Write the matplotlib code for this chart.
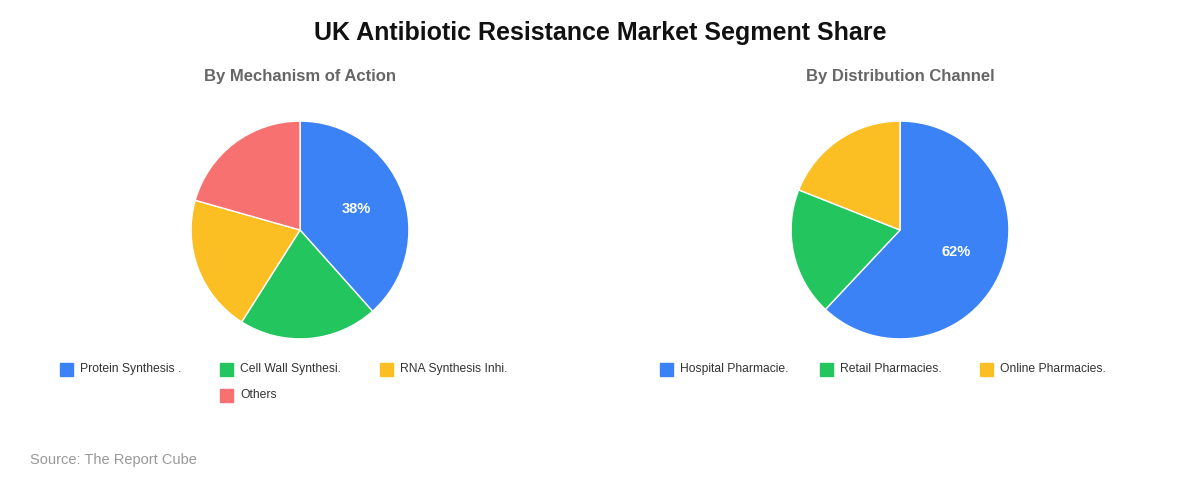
import matplotlib
matplotlib.use("Agg")
import matplotlib.pyplot as plt
from matplotlib.patches import Rectangle

plt.rcParams['font.family'] = ['Liberation Sans', 'DejaVu Sans']

title = "UK Antibiotic Resistance Market Segment Share"
source = "Source: The Report Cube"

# left pie: mechanism of action
mech_title = "By Mechanism of Action"
mech_labels = ["Protein Synthesis .", "Cell Wall Synthesi.", "RNA Synthesis Inhi.", "Others"]
mech_values = [38.4, 20.6, 20.4, 20.6]

# right pie: distribution channel
dist_title = "By Distribution Channel"
dist_labels = ["Hospital Pharmacie.", "Retail Pharmacies.", "Online Pharmacies."]
dist_values = [62, 19, 19]

colors = ["#3b82f6", "#22c55e", "#fbbf24", "#f87171"]

W, H = 1200, 480
fig = plt.figure(figsize=(12, 4.8), dpi=100)
fig.patch.set_facecolor("white")

fig.text(0.5, 1 - 33 / H, title, ha="center", va="center",
         fontsize=18, fontweight="bold", color="#111111")


def draw_pie(cx, sub, labels, values, leg_x0, leg_y0):
    r = 110
    ax = fig.add_axes([(cx - r) / W, (H - 230 - r) / H, 2 * r / W, 2 * r / H])
    wedges, texts, autotexts = ax.pie(
        values, colors=colors[:len(values)], startangle=90, counterclock=False,
        radius=1, autopct="%.0f%%", pctdistance=0.55,
        wedgeprops=dict(edgecolor="white", linewidth=1),
        textprops=dict(color="white", fontsize=10.5, fontweight="bold"))
    # only the biggest slice gets a label
    for i, t in enumerate(autotexts):
        if i != 0:
            t.set_visible(False)
    ax.set_xlim(-1.01, 1.01)
    ax.set_ylim(-1.01, 1.01)
    ax.set_aspect("equal")
    ax.axis("off")

    fig.text(cx / W, 1 - 77 / H, sub, ha="center", va="center",
             fontsize=12, fontweight="bold", color="#666666")

    # legend, 3 per row, short rows centred
    n = len(labels)
    for i, lab in enumerate(labels):
        row, col = divmod(i, 3)
        in_row = min(3, n - row * 3)
        offset = (3 - in_row) * 160 / 2
        x = leg_x0 + offset + col * 160
        y = leg_y0 + row * 26
        fig.add_artist(Rectangle((x / W, 1 - (y + 6.5) / H), 13 / W, 13 / H,
                                 transform=fig.transFigure, color=colors[i]))
        fig.text((x + 20) / W, 1 - y / H, lab, ha="left", va="center",
                 fontsize=8.7, color="#333333")


draw_pie(300, mech_title, mech_labels, mech_values, 60, 369)
draw_pie(900, dist_title, dist_labels, dist_values, 660, 369)

fig.text(30 / W, 1 - 460 / H, source, ha="left", va="center",
         fontsize=10.5, color="#999999")

fig.savefig("out.png", dpi=100)
